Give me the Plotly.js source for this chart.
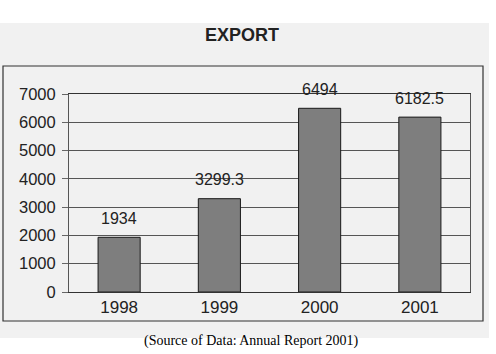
<!DOCTYPE html>
<html>
<head>
<meta charset="utf-8">
<script src="https://cdn.plot.ly/plotly-3.0.1.min.js"></script>
<style>html,body{margin:0;padding:0;background:#fff;}#chart{width:496px;height:354px;}</style>
</head>
<body>
<div id="chart"></div>
<script>
const years = ["1998", "1999", "2000", "2001"];
const exportValues = [1934, 3299.3, 6494, 6182.5];
const valueLabels = ["1934", "3299.3", "6494", "6182.5"];
const yTicks = [0, 1000, 2000, 3000, 4000, 5000, 6000, 7000];
const chartTitle = "EXPORT";
const sourceNote = "(Source of Data: Annual Report 2001)";

// plot area in pixels: left 69, right 470, top 94, bottom 292
const L = 69, R = 470, T = 94, B = 292;
const pw = R - L, ph = B - T;
const px = x => (x - L) / pw;
const py = y => (B - y) / ph;
const FONT = "Liberation Sans, Arial, sans-serif";

const trace = {
  type: "bar",
  x: years,
  y: exportValues,
  marker: { color: "#7e7e7e", line: { color: "#1a1a1a", width: 1 } },
  hoverinfo: "skip"
};

const annotations = years.map((yr, i) => ({
  x: i, y: exportValues[i], xref: "x", yref: "y",
  text: valueLabels[i], showarrow: false, yshift: 19,
  xanchor: "center", yanchor: "middle",
  font: { family: FONT, size: 16, color: "#222" }
}));
annotations.push({
  xref: "paper", yref: "paper", x: px(251), y: py(341),
  xanchor: "center", yanchor: "middle",
  text: sourceNote, showarrow: false,
  font: { family: "Liberation Serif, Times New Roman, serif", size: 14, color: "#000" }
});

const layout = {
  width: 496, height: 354,
  margin: { l: L, r: 496 - R, t: T, b: 354 - B, pad: 0 },
  paper_bgcolor: "#ffffff",
  plot_bgcolor: "#c0c0c0",
  showlegend: false,
  bargap: 0.58,
  title: {
    text: "<b>" + chartTitle + "</b>",
    x: px(242), xref: "paper", xanchor: "center",
    y: 1 - 35 / 354, yanchor: "middle",
    font: { family: FONT, size: 18, color: "#222" }
  },
  xaxis: {
    type: "category",
    categoryorder: "array", categoryarray: years,
    range: [-0.5, years.length - 0.5], autorange: false,
    tickfont: { family: FONT, size: 17, color: "#222" },
    ticks: "", showline: true, linecolor: "#333", linewidth: 1, mirror: true,
    showgrid: false, fixedrange: true
  },
  yaxis: {
    range: [0, 7000], autorange: false,
    tickvals: yTicks,
    ticktext: yTicks.map(String),
    tickfont: { family: FONT, size: 16.5, color: "#222" },
    ticks: "outside", ticklen: 6, tickcolor: "#666",
    ticklabelstandoff: 3,
    showline: true, linecolor: "#555", linewidth: 1, mirror: true,
    showgrid: true, gridcolor: "#555", gridwidth: 1,
    zeroline: false, fixedrange: true
  },
  shapes: [
    { type: "rect", xref: "paper", yref: "paper", layer: "below",
      x0: px(0), x1: px(489), y0: py(338), y1: py(23),
      fillcolor: "#f1f1f1", line: { width: 0 } },
    { type: "rect", xref: "paper", yref: "paper", layer: "below",
      x0: px(3), x1: px(483), y0: py(321), y1: py(66),
      fillcolor: "rgba(0,0,0,0)", line: { color: "#333", width: 1.2 } }
  ],
  annotations: annotations
};

Plotly.newPlot("chart", [trace], layout, { displayModeBar: false, staticPlot: true });
</script>
</body>
</html>
